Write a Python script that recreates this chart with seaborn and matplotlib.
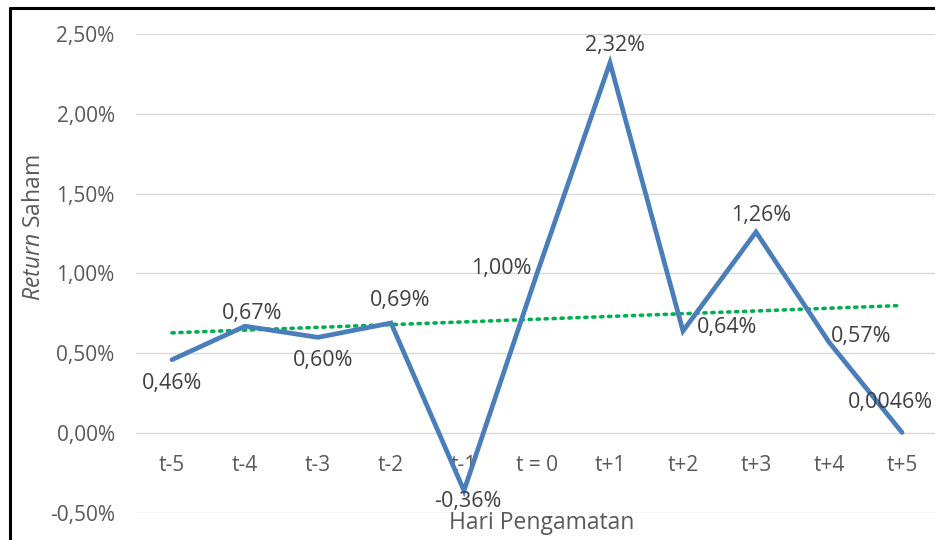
import numpy as np
import pandas as pd
import matplotlib
matplotlib.use("Agg")
import matplotlib.pyplot as plt
from matplotlib.lines import Line2D
import seaborn as sns

# Observation days and average stock return (%) around the event date
days = ["t-5", "t-4", "t-3", "t-2", "t-1", "t = 0", "t+1", "t+2", "t+3", "t+4", "t+5"]
returns = [0.46, 0.67, 0.60, 0.69, -0.36, 1.00, 2.32, 0.64, 1.26, 0.57, 0.0046]
value_labels = ["0,46%", "0,67%", "0,60%", "0,69%", "-0,36%", "1,00%",
                "2,32%", "0,64%", "1,26%", "0,57%", "0,0046%"]
y_ticks = [-0.5, 0.0, 0.5, 1.0, 1.5, 2.0, 2.5]
y_tick_labels = ["-0,50%", "0,00%", "0,50%", "1,00%", "1,50%", "2,00%", "2,50%"]

FONT = "Open Sans"
sns.set_theme(style="white")
plt.rcParams["font.family"] = [FONT, "DejaVu Sans"]
plt.rcParams["mathtext.fontset"] = "custom"
plt.rcParams["mathtext.rm"] = FONT
plt.rcParams["mathtext.it"] = FONT + ":italic"

W, H = 935, 540
fig = plt.figure(figsize=(W / 100, H / 100), dpi=100)
fig.patch.set_facecolor("white")

# plot area in pixel coordinates (right edge runs slightly past the figure)
left_px, right_px, top_px, bottom_px = 135.5, 938.5, 34, 513
ax = fig.add_axes([left_px / W, (H - bottom_px) / H,
                   (right_px - left_px) / W, (bottom_px - top_px) / H])
ax.set_facecolor("white")

df = pd.DataFrame({"pos": np.arange(len(days)), "ret": returns})

# gridlines
for yv in y_ticks:
    ax.axhline(yv, color="#D9D9D9", lw=1.0, zorder=0)

# linear trend
sns.regplot(data=df, x="pos", y="ret", ax=ax, scatter=False, ci=None,
            line_kws=dict(color="#00B050", lw=2.6, ls=(0, (0.6, 1.6)),
                          dash_capstyle="round", zorder=2))

# return series
sns.lineplot(data=df, x="pos", y="ret", ax=ax, color="#4A7EBB", lw=3.4,
             zorder=3, solid_joinstyle="miter")

ax.set_xlim(-0.5, len(days) - 0.5)
ax.set_ylim(-0.5, 2.5)
ax.set_xticks(df["pos"])
ax.set_xticklabels(days)
ax.set_yticks(y_ticks)
ax.set_yticklabels(y_tick_labels)
ax.spines["bottom"].set_position(("data", 0))
for s in ax.spines.values():
    s.set_visible(False)
ax.tick_params(axis="x", length=0, pad=16, labelsize=15, colors="#595959")
ax.tick_params(axis="y", length=0, pad=15, labelsize=15, colors="#595959")
ax.set_xlabel("")
ax.set_ylabel("")

# value labels (pixel offsets from each point)
offsets = [(0, -24), (7, 13), (5, -23), (9, 22), (4, -11), (-36, 5),
           (5, 17), (44, 3), (5, 16), (32, 6), (-12, 30)]
for i, (v, txt) in enumerate(zip(returns, value_labels)):
    dx, dy = offsets[i]
    ax.annotate(txt, (i, v), xytext=(dx, dy), textcoords="offset pixels",
                ha="center", va="center", fontsize=15.5, color="#404040",
                zorder=4, annotation_clip=False)

# axis titles
fig.text(34 / W, 1 - 228 / H, r"$\mathit{Return}$ Saham", rotation=90,
         ha="center", va="center", fontsize=16.5, color="#595959")
fig.text(542 / W, 1 - 523 / H, "Hari Pengamatan", ha="center", va="center",
         fontsize=16.5, color="#595959")

# outer chart frame
fig.add_artist(Line2D([10 / W, 1.0], [1 - 8 / H, 1 - 8 / H],
                      transform=fig.transFigure, color="black", lw=2.2))
fig.add_artist(Line2D([10 / W, 10 / W], [0.0, 1 - 8 / H],
                      transform=fig.transFigure, color="black", lw=2.2))

fig.savefig("out.png", dpi=100)
